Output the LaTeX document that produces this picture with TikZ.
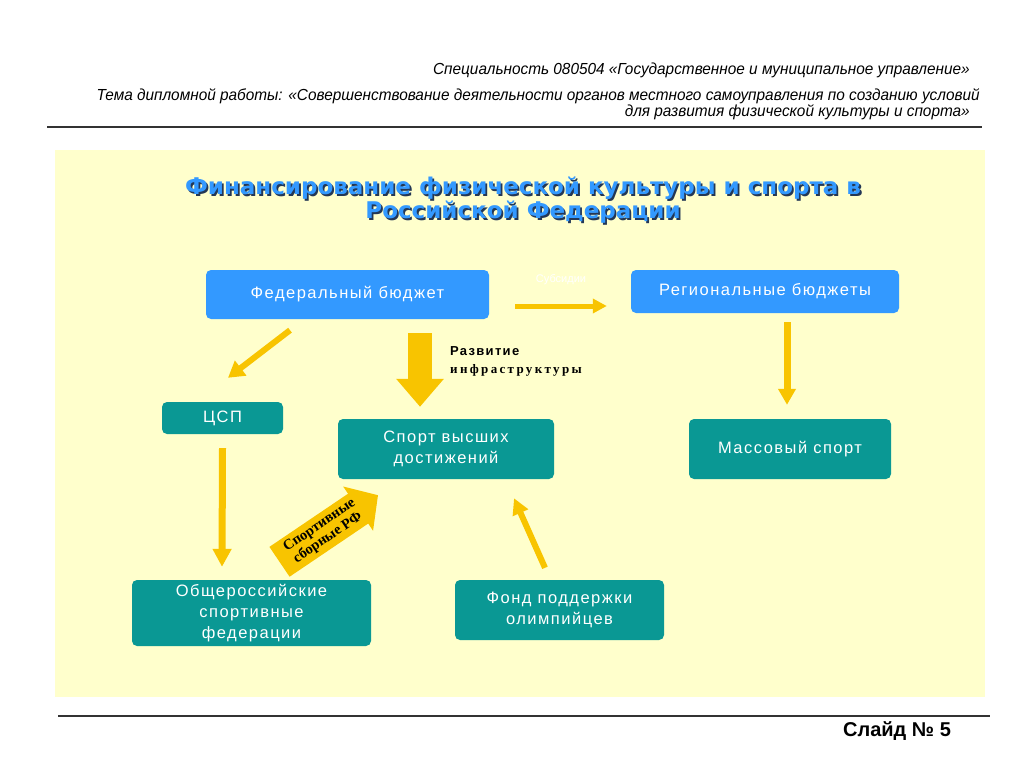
\documentclass[tikz,border=0pt]{standalone}
\usepackage{fontspec}
\setmainfont{Liberation Sans}
\newfontfamily\narrowfont[FakeStretch=0.96]{Liberation Sans}
\newfontfamily\titlefont{DejaVu Sans}
\newfontfamily\labelfont{Liberation Serif}
\newfontfamily\wordfont{Liberation Sans}
\usetikzlibrary{arrows.meta,calc}
\definecolor{panelyellow}{RGB}{255,255,204}
\definecolor{budgetblue}{RGB}{51,153,255}
\definecolor{sportteal}{RGB}{10,152,148}
\definecolor{flowyellow}{RGB}{248,196,0}
\definecolor{titleshade}{RGB}{35,55,85}

\begin{document}
\begin{tikzpicture}[
        x=1pt, y=-1pt,
        box/.style={rounded corners=5pt, text=white, align=center, inner sep=0pt,
          font=\fontsize{16.5}{21}\selectfont\addfontfeature{LetterSpace=9}},
        budget/.style={box, fill=budgetblue},
        sport/.style={box, fill=sportteal},
        flow/.style={draw=flowyellow, line width=#1},
        flow/.default=6,
        header/.style={font=\narrowfont\itshape\fontsize{16}{18}\selectfont, anchor=east, inner sep=0pt},
        note/.style={font=\labelfont\bfseries\fontsize{13}{18}\selectfont, align=left, inner sep=0pt}
      ]
\useasboundingbox (0,0) rectangle (1024,767);

% Header
        \node[header] (spec) at (970,70)
          {Специальность 080504 «Государственное и муниципальное управление»};
        \node[header] (theme1) at (980,96)
          {Тема дипломной работы: «Совершенствование деятельности органов местного самоуправления по созданию условий};
        \node[header] (theme2) at (970,112)
          {для развития физической культуры и спорта»};
        \draw[line width=1.3pt, black!80] (47,127) -- (982,127);

% Panel
        \fill[panelyellow] (55,150) rectangle (985,697);

% Title (shadow, then text)
        \foreach \dx/\dy/\col in {1.8/1.8/titleshade, 0/0/budgetblue}
          \node[font=\titlefont\bfseries\fontsize{23}{24}\selectfont, text=\col, align=center]
            at (523+\dx,200+\dy)
            {Финансирование физической культуры и спорта в\\Российской Федерации};

% Boxes
        \node[budget, minimum width=283, minimum height=49] (fed) at (347.5,294.5) {Федеральный бюджет};
        \node[budget, minimum width=268, minimum height=43] (reg) at (765,291.5) {Региональные бюджеты};
        \node[sport, minimum width=121, minimum height=32] (csp) at (222.5,418) {ЦСП};
        \node[sport, minimum width=216, minimum height=60] (top) at (446,449) {Спорт высших\\достижений};
        \node[sport, minimum width=202, minimum height=60] (mass) at (790,449) {Массовый спорт};
        \node[sport, minimum width=239, minimum height=66] (feds) at (251.5,613) {Общероссийские\\спортивные\\федерации};
        \node[sport, minimum width=209, minimum height=60] (fond) at (559.5,610) {Фонд поддержки\\олимпийцев};

% Arrows
        \draw[flow=5, -{Triangle[length=14pt, width=14pt]}]
          ($(fed.east)+(26,11.5)$) -- ($(reg.west)+(-24,14.5)$)
          node[midway, above=15pt, text=white, font=\fontsize{11}{12}\selectfont] (subs) {Субсидии};
        \draw[flow=6, -{Triangle[length=16pt, width=18pt]}]
          ($(fed.south)+(-57.5,11)$) -- ($(csp.north)+(5.5,-24)$);
        \draw[flow=24, -{Triangle[length=28pt, width=46pt]}]
          ($(fed.south)+(72.5,14)$) -- ($(top.north)+(-26,-12)$);
        \draw[flow=7, -{Triangle[length=16pt, width=17pt]}]
          ($(reg.south)+(22,9)$) -- ($(mass.north)+(-3,-14)$);
        \draw[flow=7, -{Triangle[length=18pt, width=18pt]}]
          ($(csp.south)+(0,14)$) -- ($(feds.north)+(-29.5,-13)$);
        \draw[flow=6, -{Triangle[length=16pt, width=16pt]}]
          ($(fond.north)+(-14.5,-12)$) -- ($(top.south)+(68,19)$);
        \draw[flow=36, -{Triangle[length=24pt, width=52pt]}]
          ($(feds.north)+(28,-18)$) -- ($(top.south)+(-68,16)$)
          node[pos=0.45, sloped, note, align=center, font=\labelfont\bfseries\fontsize{14.5}{15}\selectfont] (teams)
          {Спортивные\\сборные РФ};

% Labels
        \node[note, anchor=north west] (infra) at (450,346)
          {\wordfont\addfontfeature{LetterSpace=10}Развитие\\\addfontfeature{LetterSpace=18}инфраструктуры};

% Footer
        \draw[line width=1.3pt, black!80] (58,716) -- (990,716);
        \node[font=\bfseries\fontsize{20}{22}\selectfont] (slide) at (897,731) {Слайд № 5};

      \end{tikzpicture}
\end{document}
